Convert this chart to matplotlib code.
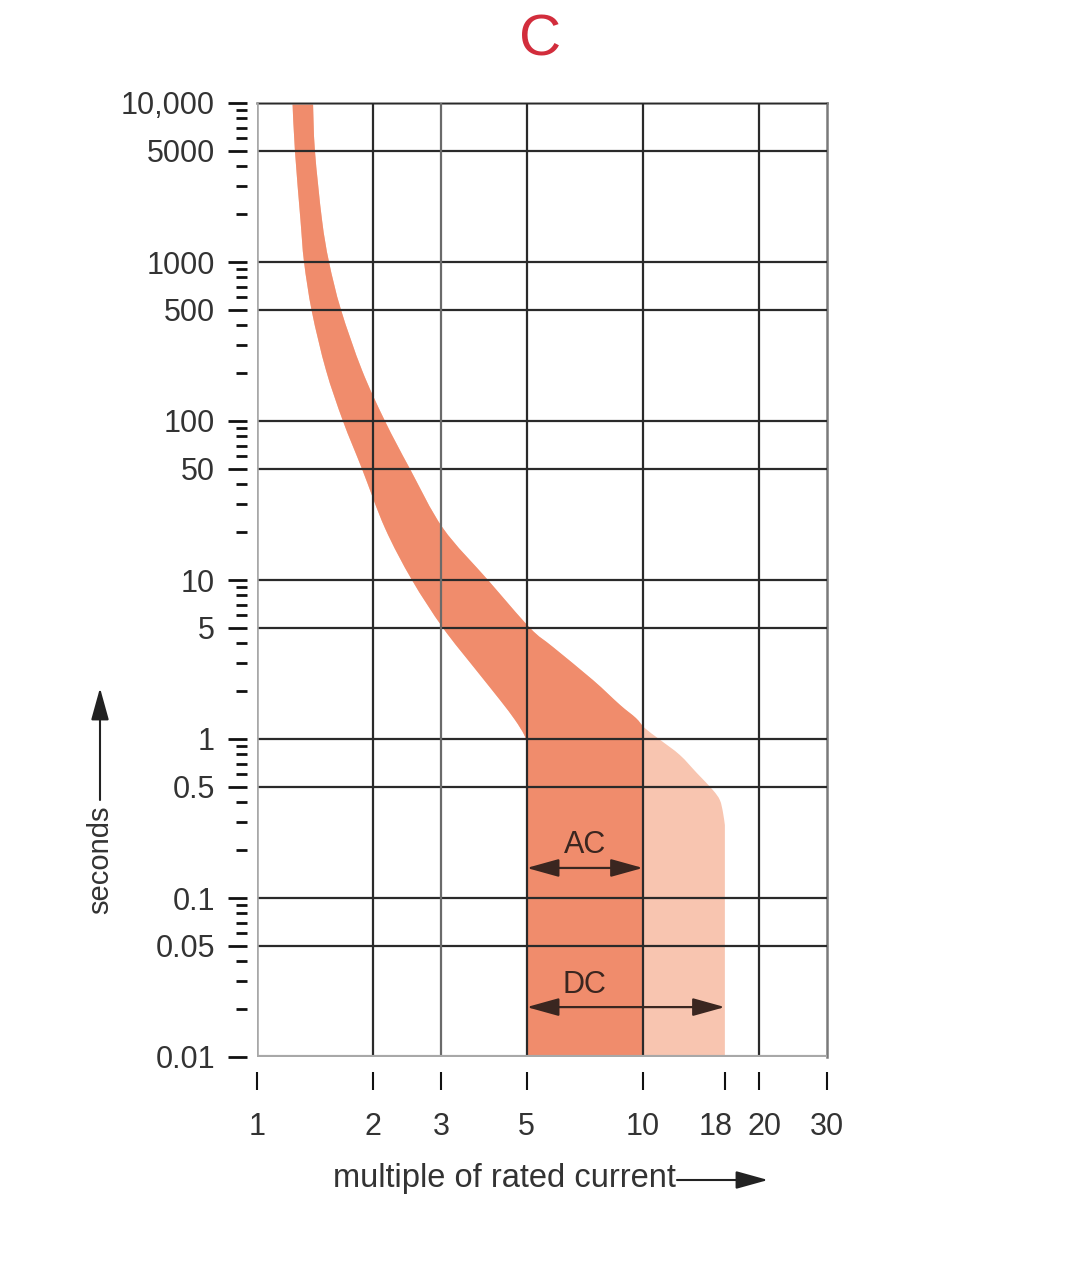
import matplotlib
matplotlib.use('Agg')  # no display, just save the png
import matplotlib.pyplot as plt
import matplotlib.transforms as mtransforms
import numpy as np
from matplotlib.patches import Rectangle, PathPatch
from matplotlib.path import Path
from matplotlib.ticker import FixedLocator, NullLocator

plt.rcParams['font.family'] = ['Liberation Sans', 'DejaVu Sans']

# trip band of a type C breaker
# left edge: lowest current that trips after t seconds
left_x = [1.236, 1.254, 1.296, 1.324, 1.388, 1.509, 1.670, 1.871, 2.146, 2.521, 3.033, 3.693, 4.262, 4.660, 4.918, 5.0]
left_t = [10000, 5000, 1840, 1000, 485, 209, 100, 50, 21.2, 10, 5, 2.72, 1.76, 1.32, 1.07, 0.95]
# right edge: highest current before it must trip (past 10x only for DC)
right_x = [1.397, 1.413, 1.474, 1.537, 1.651, 1.871, 2.146, 2.491, 3.033, 3.967, 5.096, 5.846, 7.42, 8.72,
           9.59, 10.12, 11.07, 12.47, 13.80, 15.18, 15.83, 16.12, 16.31]
right_t = [10000, 5000, 1840, 1000, 500, 209, 100, 50, 21.2, 10, 5, 3.79, 2.35, 1.64,
           1.355, 1.17, 0.99, 0.793, 0.611, 0.478, 0.413, 0.3475, 0.2877]

ac_range = [5, 10]
dc_range = [5, 16.31]

x_ticks = [1, 2, 3, 5, 10, 16.31, 20, 30]
x_labels = ['1', '2', '3', '5', '10', '18', '20', '30']
x_grid = [2, 3, 5, 10, 20]

y_ticks = [10000, 5000, 1000, 500, 100, 50, 10, 5, 1, 0.5, 0.1, 0.05, 0.01]
y_labels = ['10,000', '5000', '1000', '500', '100', '50', '10', '5', '1', '0.5', '0.1', '0.05', '0.01']

dark = '#F08C6C'
light = '#F8C5B0'
text_col = '#333333'
arrow_col = '#3a2620'


def smooth_curve(xs, ts):
    """Bezier pieces through the points (Catmull-Rom, done in log space). Returns verts, codes."""
    p = np.column_stack([np.log10(xs), np.log10(ts)])
    p_ext = np.vstack([p[0], p, p[-1]])
    verts, codes = [], []
    for i in range(len(p) - 1):
        p0, p1, p2, p3 = p_ext[i], p_ext[i + 1], p_ext[i + 2], p_ext[i + 3]
        c1 = p1 + (p2 - p0) / 6
        c2 = p2 - (p3 - p1) / 6
        verts += [c1, c2, p2]
        codes += [Path.CURVE4] * 3
    return [10 ** v for v in verts], codes


fig = plt.figure(figsize=(10.8, 12.67), dpi=100)
ax = fig.add_axes([257 / 1080, 1 - 1057 / 1267, 570 / 1080, 954 / 1267])
ax.set_xscale('log')
ax.set_yscale('log')
ax.set_xlim(1, 30)
ax.set_ylim(0.01, 10000)

# band outline: down the left edge, along the bottom, up the right edge
lv, lc = smooth_curve(left_x, left_t)
rv, rc = smooth_curve(right_x[::-1], right_t[::-1])
verts = [(left_x[0], left_t[0])] + lv + [(left_x[-1], 0.01), (right_x[-1], 0.01), (right_x[-1], right_t[-1])] + rv
verts.append(verts[0])
codes = [Path.MOVETO] + lc + [Path.LINETO] * 3 + rc + [Path.CLOSEPOLY]
band = Path(np.array(verts), codes)

ax.add_patch(PathPatch(band, facecolor=light, lw=0, zorder=1, transform=ax.transData))
dark_patch = ax.add_patch(PathPatch(band, facecolor=dark, lw=0, zorder=2, transform=ax.transData))
clip = Rectangle((1, 0.01), ac_range[1] - 1, 10000, transform=ax.transData)
dark_patch.set_clip_path(clip)

# grid drawn on top of the band
for y in y_ticks[:-1]:
    ax.axhline(y, color='#2a2a2a', lw=1.6, zorder=3)
for x in x_grid:
    c = '#6a6a6a' if x == 3 else '#2a2a2a'
    ax.axvline(x, color=c, lw=1.6, zorder=3)
ax.axvline(1, color='#a8a8a8', lw=2.6, zorder=3)
ax.axhline(0.01, color='#a8a8a8', lw=3, zorder=3)

for side in ['top', 'right']:
    ax.spines[side].set_color('#7a7a7a')
    ax.spines[side].set_linewidth(1.8)
ax.spines['left'].set_position(('outward', 7.2))
ax.spines['bottom'].set_position(('outward', 10.8))
ax.spines['left'].set_visible(False)
ax.spines['bottom'].set_visible(False)

ax.set_yticks(y_ticks, labels=y_labels)
minor = [m * 10.0 ** k for k in range(-2, 4) for m in (2, 3, 4, 6, 7, 8, 9)]
ax.yaxis.set_minor_locator(FixedLocator(minor))
ax.set_xticks(x_ticks, labels=x_labels)
ax.xaxis.set_minor_locator(NullLocator())

ax.tick_params(axis='y', which='major', length=14, width=2, pad=9, labelsize=22,
               labelcolor=text_col, color='#111111')
ax.tick_params(axis='y', which='minor', length=8, width=2, color='#111111')
ax.tick_params(axis='x', which='major', length=13, width=1.5, pad=16, labelsize=22,
               labelcolor=text_col, color='#111111')

# "18" and "20" sit a little apart from their ticks so they don't collide
shifts = {'18': -9, '20': 5}
for lab in ax.get_xticklabels():
    dx = shifts.get(lab.get_text(), 0)
    if dx:
        lab.set_transform(lab.get_transform() + mtransforms.ScaledTranslation(dx / 100, 0, fig.dpi_scale_trans))

# AC / DC ranges
head = '<|-|>,head_length=0.9,head_width=0.25'
ax.annotate('', xy=(ac_range[1], 0.1545), xytext=(ac_range[0], 0.1545),
            arrowprops=dict(arrowstyle=head, color=arrow_col, lw=1.6, mutation_scale=22,
                            shrinkA=0, shrinkB=0), zorder=4)
ax.text((ac_range[0] * ac_range[1]) ** 0.5, 0.215, 'AC', ha='center', va='center',
        fontsize=22, color=arrow_col, zorder=4)
ax.annotate('', xy=(dc_range[1], 0.0206), xytext=(dc_range[0], 0.0206),
            arrowprops=dict(arrowstyle=head, color=arrow_col, lw=1.6, mutation_scale=22,
                            shrinkA=0, shrinkB=0), zorder=4)
ax.text((ac_range[0] * ac_range[1]) ** 0.5, 0.0284, 'DC', ha='center', va='center',
        fontsize=22, color=arrow_col, zorder=4)

# title and axis labels with their arrows
fig.text(540 / 1080, 1 - 41 / 1267, 'C', ha='center', va='center', fontsize=42, color='#d22d3c')
fig.text(100 / 1080, 1 - 860 / 1267, 'seconds', rotation=90, ha='center', va='center',
         fontsize=21, color=text_col)
ax.annotate('', xy=(100 / 1080, 1 - 688 / 1267), xytext=(100 / 1080, 1 - 800 / 1267),
            xycoords='figure fraction', textcoords='figure fraction',
            arrowprops=dict(arrowstyle='-|>,head_length=0.9,head_width=0.25', color='#222222',
                            lw=1.5, mutation_scale=22, shrinkA=0, shrinkB=0))
fig.text(676 / 1080, 1 - 1178 / 1267, 'multiple of rated current', ha='right', va='center',
         fontsize=23.5, color=text_col)
ax.annotate('', xy=(768 / 1080, 1 - 1180 / 1267), xytext=(677 / 1080, 1 - 1180 / 1267),
            xycoords='figure fraction', textcoords='figure fraction',
            arrowprops=dict(arrowstyle='-|>,head_length=0.9,head_width=0.25', color='#222222',
                            lw=1.5, mutation_scale=22, shrinkA=0, shrinkB=0))

fig.savefig('out.png', dpi=100)
plt.close(fig)
